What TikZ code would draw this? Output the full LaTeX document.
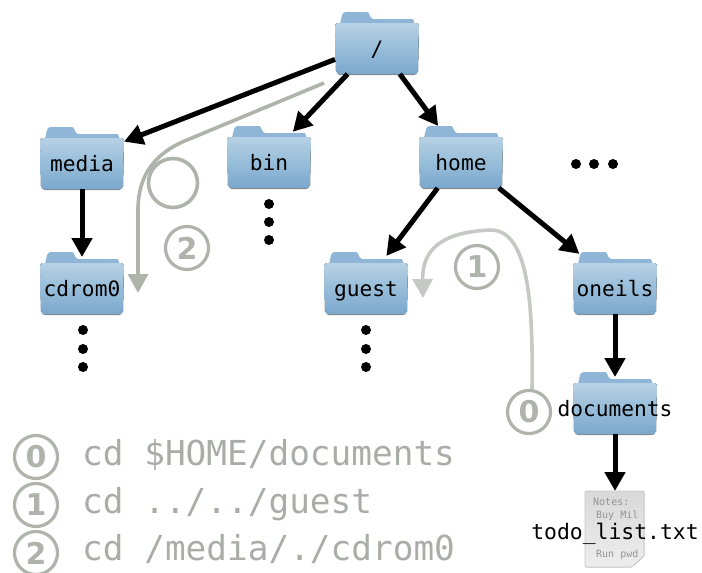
\documentclass[tikz,border=0pt]{standalone}
\usepackage{fontspec}
\setmainfont{DejaVu Sans Mono}
\newfontfamily\digitfont{DejaVu Sans}[BoldFont={DejaVu Sans Bold}]
\usetikzlibrary{arrows.meta}
\definecolor{stepgray}{HTML}{AEB3AC}
\definecolor{steplight}{HTML}{C4C9C3}
\definecolor{cmdgray}{HTML}{A9ADA7}
\definecolor{folderA}{HTML}{B6D1E5}
\definecolor{folderB}{HTML}{79A8CD}
\definecolor{foldertab}{HTML}{8FB6D6}
\tikzset{
  folderbox/.style={minimum width=84pt,minimum height=62pt,inner sep=0pt,outer sep=0pt,
    font=\fontsize{21.2}{24}\selectfont,text height=15pt,text depth=4pt},
  filebox/.style={minimum width=59pt,minimum height=76pt,inner sep=0pt,outer sep=0pt,
    font=\fontsize{21.4}{24}\selectfont,text height=15pt,text depth=4pt},
  tree/.style={line width=5pt,-{Triangle[width=20pt,length=19pt]}},
  walk/.style={line width=3.6pt,stepgray,line cap=butt},
  stepmark/.style={circle,draw=stepgray,line width=3.2pt,minimum size=43pt,inner sep=0pt,
    text=stepgray,font=\digitfont\bfseries\fontsize{30}{32}\selectfont},
  cmd/.style={anchor=base west,inner sep=0pt,text=cmdgray,font=\fontsize{34.4}{38}\selectfont},
  smallnote/.style={anchor=base west,inner sep=0pt,text=black!42,font=\fontsize{10}{12}\selectfont},
  dotmark/.style={fill=black,circle,minimum size=10pt,inner sep=0pt},
}
% name, centre x, tab top y, label
\newcommand{\folder}[4]{%
  \fill[black!40] (#2-39,#3+60) -- (#2+39,#3+60) -- (#2+38,#3+63) -- (#2-38,#3+63) -- cycle;
  \fill[foldertab] (#2-37,#3+12) -- (#2-35,#3+3) .. controls (#2-34,#3+1) and (#2-33,#3) .. (#2-31,#3) -- (#2-10,#3)
     .. controls (#2-7,#3) and (#2-8,#3+6) .. (#2-4,#3+7) -- (#2+36,#3+7) -- (#2+38,#3+13) -- cycle;
  \fill[top color=folderA,bottom color=folderB] (#2-42,#3+13) -- (#2-40,#3+11) -- (#2+40,#3+11)
     -- (#2+42,#3+13) -- (#2+41,#3+59) -- (#2+39,#3+62) -- (#2-39,#3+62) -- (#2-41,#3+59) -- cycle;
  \node[folderbox] (#1) at (#2,#3+31) {\raisebox{-8pt}{#4}};
}
\begin{document}
\begin{tikzpicture}[x=1pt,y=-1pt]
\useasboundingbox (0,0) rectangle (702,573);
\folder{root}{377}{12}{/}
\folder{media}{82}{127}{media}
\folder{bin}{269}{126}{bin}
\folder{home}{461}{126}{home}
\folder{cdrom}{82}{252}{cdrom0}
\folder{guest}{366}{252}{guest}
\folder{oneils}{615}{252}{oneils}
\folder{docs}{615}{372}{documents}
% file page
\fill[top color=black!15,bottom color=black!7,draw=black!22,line width=0.8pt,rounded corners=1pt]
  (585,491) -- (644,491) -- (644,556) -- (632,567) -- (585,567) -- cycle;
\node[smallnote] at (593,505) {Notes:};
\node[smallnote] at (596,518) {Buy Mil};
\node[smallnote] at (596,557) {Run pwd};
\node[filebox] (file) at (615,529) {\raisebox{-5pt}{todo\_list.txt}};
% tree
\draw[tree] (root) -- (media);
\draw[tree,shorten >=-8pt] (root) -- (bin);
\draw[tree] (root) -- (home);
\draw[tree,shorten >=-5pt] (media) -- (cdrom);
\draw[tree,shorten >=-5pt] (home) -- (guest);
\draw[tree,shorten >=-3pt] (home) -- (oneils);
\draw[tree,shorten >=-5pt] (oneils) -- (docs);
\draw[tree] (docs) -- (file);
% dots
\foreach \n/\px/\py in {a/269/204,b/269/222,c/269/240,d/83/330,e/83/349,f/83/367,g/366/330,h/366/349,i/366/367,j/576/164,k/594/164,l/613/164}
  \node[dotmark] (dot\n) at (\px,\py) {};
% step marks
\node[stepmark] (zero) at (529,412) {0};
\node[stepmark] (one) at (477,267) {1};
\node[stepmark] (two) at (187,248) {2};
\coordinate (walkstart) at (324,83);
\coordinate (walkend) at (138,293);
\coordinate (oneend) at (423,298);
\draw[walk,steplight,-{Triangle[width=20pt,length=19pt]}] (zero.north) ++(3,0)
  .. controls (533,310) and (530,229) .. (490,230)
  .. controls (448,232) and (422,245) .. (oneend);
\draw[walk,-{Triangle[width=20pt,length=19pt]}] (walkstart)
  -- (187,140)
  .. controls (155,153) and (138,175) .. (138,210) -- (walkend);
\draw[walk] (173,183) circle (24.5);
% legend
\node[stepmark] (lzero) at (36,457) {0};
\node[stepmark] (lone) at (36,505) {1};
\node[stepmark] (ltwo) at (36,553) {2};
\node[cmd] at (82,465) {cd \$HOME/documents};
\node[cmd] at (82,513) {cd ../../guest};
\node[cmd] at (82,560) {cd /media/./cdrom0};
\end{tikzpicture}
\end{document}
